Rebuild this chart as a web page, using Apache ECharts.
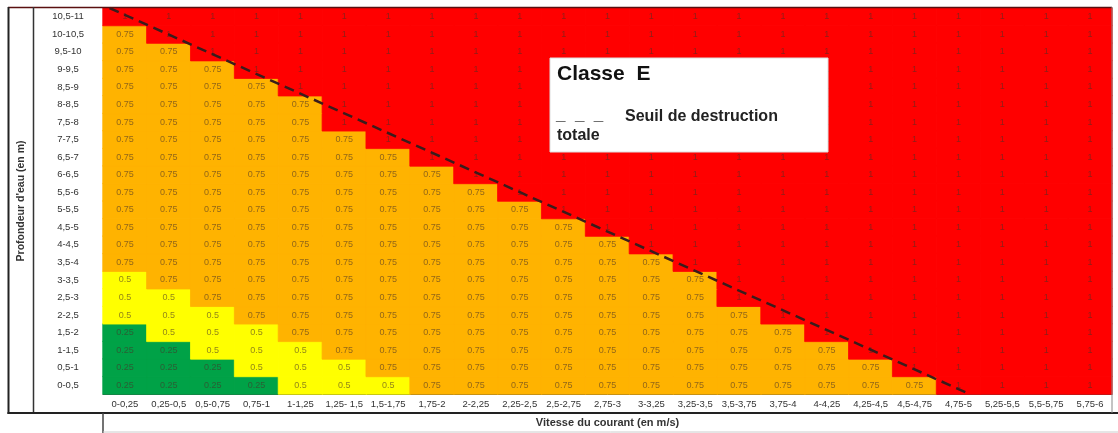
<!DOCTYPE html>
<html>
<head>
<meta charset="utf-8">
<script src="https://cdn.jsdelivr.net/npm/echarts@6/dist/echarts.min.js"></script>
<style>
    html, body { margin: 0; padding: 0; background: #fff; }
    #chart { width: 1118px; height: 433px; }
</style>
</head>
<body>
<div id="chart"></div>
<script>
// vitesse du courant (m/s)
const vitesses = ['0-0,25', '0,25-0,5', '0,5-0,75', '0,75-1', '1-1,25', '1,25- 1,5', '1,5-1,75', '1,75-2',
    '2-2,25', '2,25-2,5', '2,5-2,75', '2,75-3', '3-3,25', '3,25-3,5', '3,5-3,75', '3,75-4',
    '4-4,25', '4,25-4,5', '4,5-4,75', '4,75-5', '5,25-5,5', '5,5-5,75', '5,75-6']

// profondeur d'eau (m), du bas vers le haut
const profondeurs = ['0-0,5', '0,5-1', '1-1,5', '1,5-2', '2-2,5', '2,5-3', '3-3,5', '3,5-4', '4-4,5',
    '4,5-5', '5-5,5', '5,5-6', '6-6,5', '6,5-7', '7-7,5', '7,5-8', '8-8,5', '8,5-9', '9-9,5',
    '9,5-10', '10-10,5', '10,5-11']

// taux d'endommagement, une ligne par profondeur (même ordre que profondeurs)
const taux = [
    [0.25, 0.25, 0.25, 0.25, 0.5, 0.5, 0.5, 0.75, 0.75, 0.75, 0.75, 0.75, 0.75, 0.75, 0.75, 0.75, 0.75, 0.75, 0.75, 1, 1, 1, 1],
    [0.25, 0.25, 0.25, 0.5, 0.5, 0.5, 0.75, 0.75, 0.75, 0.75, 0.75, 0.75, 0.75, 0.75, 0.75, 0.75, 0.75, 0.75, 1, 1, 1, 1, 1],
    [0.25, 0.25, 0.5, 0.5, 0.5, 0.75, 0.75, 0.75, 0.75, 0.75, 0.75, 0.75, 0.75, 0.75, 0.75, 0.75, 0.75, 1, 1, 1, 1, 1, 1],
    [0.25, 0.5, 0.5, 0.5, 0.75, 0.75, 0.75, 0.75, 0.75, 0.75, 0.75, 0.75, 0.75, 0.75, 0.75, 0.75, 1, 1, 1, 1, 1, 1, 1],
    [0.5, 0.5, 0.5, 0.75, 0.75, 0.75, 0.75, 0.75, 0.75, 0.75, 0.75, 0.75, 0.75, 0.75, 0.75, 1, 1, 1, 1, 1, 1, 1, 1],
    [0.5, 0.5, 0.75, 0.75, 0.75, 0.75, 0.75, 0.75, 0.75, 0.75, 0.75, 0.75, 0.75, 0.75, 1, 1, 1, 1, 1, 1, 1, 1, 1],
    [0.5, 0.75, 0.75, 0.75, 0.75, 0.75, 0.75, 0.75, 0.75, 0.75, 0.75, 0.75, 0.75, 0.75, 1, 1, 1, 1, 1, 1, 1, 1, 1],
    [0.75, 0.75, 0.75, 0.75, 0.75, 0.75, 0.75, 0.75, 0.75, 0.75, 0.75, 0.75, 0.75, 1, 1, 1, 1, 1, 1, 1, 1, 1, 1],
    [0.75, 0.75, 0.75, 0.75, 0.75, 0.75, 0.75, 0.75, 0.75, 0.75, 0.75, 0.75, 1, 1, 1, 1, 1, 1, 1, 1, 1, 1, 1],
    [0.75, 0.75, 0.75, 0.75, 0.75, 0.75, 0.75, 0.75, 0.75, 0.75, 0.75, 1, 1, 1, 1, 1, 1, 1, 1, 1, 1, 1, 1],
    [0.75, 0.75, 0.75, 0.75, 0.75, 0.75, 0.75, 0.75, 0.75, 0.75, 1, 1, 1, 1, 1, 1, 1, 1, 1, 1, 1, 1, 1],
    [0.75, 0.75, 0.75, 0.75, 0.75, 0.75, 0.75, 0.75, 0.75, 1, 1, 1, 1, 1, 1, 1, 1, 1, 1, 1, 1, 1, 1],
    [0.75, 0.75, 0.75, 0.75, 0.75, 0.75, 0.75, 0.75, 1, 1, 1, 1, 1, 1, 1, 1, 1, 1, 1, 1, 1, 1, 1],
    [0.75, 0.75, 0.75, 0.75, 0.75, 0.75, 0.75, 1, 1, 1, 1, 1, 1, 1, 1, 1, 1, 1, 1, 1, 1, 1, 1],
    [0.75, 0.75, 0.75, 0.75, 0.75, 0.75, 1, 1, 1, 1, 1, 1, 1, 1, 1, 1, 1, 1, 1, 1, 1, 1, 1],
    [0.75, 0.75, 0.75, 0.75, 0.75, 1, 1, 1, 1, 1, 1, 1, 1, 1, 1, 1, 1, 1, 1, 1, 1, 1, 1],
    [0.75, 0.75, 0.75, 0.75, 0.75, 1, 1, 1, 1, 1, 1, 1, 1, 1, 1, 1, 1, 1, 1, 1, 1, 1, 1],
    [0.75, 0.75, 0.75, 0.75, 1, 1, 1, 1, 1, 1, 1, 1, 1, 1, 1, 1, 1, 1, 1, 1, 1, 1, 1],
    [0.75, 0.75, 0.75, 1, 1, 1, 1, 1, 1, 1, 1, 1, 1, 1, 1, 1, 1, 1, 1, 1, 1, 1, 1],
    [0.75, 0.75, 1, 1, 1, 1, 1, 1, 1, 1, 1, 1, 1, 1, 1, 1, 1, 1, 1, 1, 1, 1, 1],
    [0.75, 1, 1, 1, 1, 1, 1, 1, 1, 1, 1, 1, 1, 1, 1, 1, 1, 1, 1, 1, 1, 1, 1],
    [1, 1, 1, 1, 1, 1, 1, 1, 1, 1, 1, 1, 1, 1, 1, 1, 1, 1, 1, 1, 1, 1, 1]
]

// seuil de destruction totale (en unités de cellules : colonne, ligne)
const seuil = [[0.15, 22], [19.75, 0]]

const couleurs = { 0.25: '#00a247', 0.5: '#ffff00', 0.75: '#ffb300', 1: '#ff0000' }

const chart = echarts.init(document.getElementById('chart'))

// bordure de la même couleur que la case pour éviter les liserés
const cells = []
taux.forEach((row, y) => row.forEach((v, x) => cells.push({
    value: [x, y, v],
    itemStyle: { borderColor: couleurs[v], borderWidth: 0.8 }
})))

const grid = { left: 103, top: 8, width: 1009, height: 386, outerBoundsMode: 'none', containLabel: false }
const police = 'Liberation Sans, Arial, sans-serif'

chart.setOption({
    animation: false,
    textStyle: { fontFamily: police },
    grid: [grid, Object.assign({}, grid)],
    xAxis: [
        {
            type: 'category',
            data: vitesses,
            gridIndex: 0,
            position: 'bottom',
            name: 'Vitesse du courant (en m/s)',
            nameLocation: 'middle',
            nameGap: 23,
            nameTextStyle: { fontSize: 11, fontWeight: 'bold', color: '#333' },
            axisLine: { lineStyle: { color: '#444', width: 1 } },
            axisTick: { length: 19, lineStyle: { color: '#555' } },
            axisLabel: { fontSize: 9.5, color: '#333', margin: 5, interval: 0 },
            splitLine: { show: false }
        },
        { type: 'value', gridIndex: 1, min: 0, max: 23, show: false }
    ],
    yAxis: [
        {
            type: 'category',
            data: profondeurs,
            gridIndex: 0,
            name: "Profondeur d'eau (en m)",
            nameLocation: 'middle',
            nameGap: 76,
            nameTextStyle: { fontSize: 10.5, fontWeight: 'bold', color: '#333' },
            axisLine: { lineStyle: { color: '#444', width: 1 } },
            axisTick: { length: 70, lineStyle: { color: '#555' } },
            axisLabel: { fontSize: 9.5, color: '#333', margin: 35, align: 'center', interval: 0 },
            splitLine: { show: false }
        },
        { type: 'value', gridIndex: 1, min: 0, max: 22, show: false }
    ],
    visualMap: {
        show: false,
        type: 'piecewise',
        dimension: 2,
        seriesIndex: 0,
        pieces: Object.keys(couleurs).map(k => ({ value: Number(k), color: couleurs[k] }))
    },
    series: [
        {
            type: 'heatmap',
            xAxisIndex: 0,
            yAxisIndex: 0,
            data: cells,
            label: {
                show: true,
                fontSize: 9,
                color: 'rgba(70, 50, 40, 0.6)'
            }
        },
        {
            type: 'line',
            xAxisIndex: 1,
            yAxisIndex: 1,
            data: seuil,
            symbol: 'none',
            silent: true,
            lineStyle: { color: '#3a1c1c', width: 2.5, type: [10, 6] },
            z: 5
        }
    ],
    graphic: [
        // cadre du tableau
        { type: 'line', shape: { x1: 8, y1: 7.5, x2: 1112, y2: 7.5 }, style: { stroke: '#5a1010', lineWidth: 1.5 }, z: 10 },
        { type: 'line', shape: { x1: 8.5, y1: 7, x2: 8.5, y2: 414 }, style: { stroke: '#222', lineWidth: 2 }, z: 10 },
        { type: 'line', shape: { x1: 33.5, y1: 7, x2: 33.5, y2: 414 }, style: { stroke: '#333', lineWidth: 1.5 }, z: 10 },
        { type: 'line', shape: { x1: 7.5, y1: 413, x2: 1118, y2: 413 }, style: { stroke: '#222', lineWidth: 2 }, z: 10 },
        { type: 'line', shape: { x1: 103, y1: 413, x2: 103, y2: 433 }, style: { stroke: '#444', lineWidth: 1.5 }, z: 10 },
        { type: 'line', shape: { x1: 103, y1: 432, x2: 1118, y2: 432 }, style: { stroke: '#ccc', lineWidth: 1 }, z: 10 },
        { type: 'line', shape: { x1: 1112, y1: 7, x2: 1112, y2: 413 }, style: { stroke: '#888', lineWidth: 1 }, z: 10 },
        // encart légende
        { type: 'rect', shape: { x: 550, y: 58, width: 278, height: 94 }, style: { fill: '#fff', stroke: '#ddd', lineWidth: 1 }, z: 20 },
        { type: 'text', x: 557, y: 64, style: { text: 'Classe  E', font: 'bold 21px ' + police, fill: '#111' }, z: 21 },
        { type: 'text', x: 556, y: 107, style: { text: '_  _  _', font: 'bold 17px ' + police, fill: '#222' }, z: 21 },
        { type: 'text', x: 625, y: 109, style: { text: 'Seuil de destruction', font: 'bold 16px ' + police, fill: '#222' }, z: 21 },
        { type: 'text', x: 557, y: 128, style: { text: 'totale', font: 'bold 16px ' + police, fill: '#222' }, z: 21 }
    ]
})

window.addEventListener('resize', () => chart.resize())
</script>
</body>
</html>
